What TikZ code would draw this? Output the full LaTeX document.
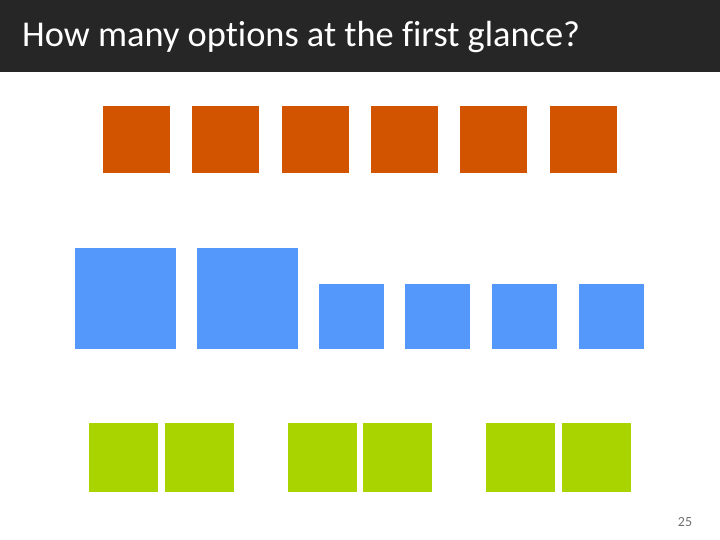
\documentclass[tikz,border=0pt]{standalone}
\usepackage{fontspec}
\setmainfont{Carlito}[Ligatures=NoCommon]
\definecolor{barc}{HTML}{262626}
\definecolor{orangec}{HTML}{D35400}
\definecolor{bluec}{HTML}{5598FC}
\definecolor{greenc}{HTML}{AAD400}
\definecolor{numc}{HTML}{707070}
\begin{document}
\begin{tikzpicture}[x=1bp,y=-1bp,
  box/.style={inner sep=0pt,outer sep=0pt}]
\useasboundingbox (0,0) rectangle (720,540);
\fill[white] (0,0) rectangle (720,540);
\fill[barc] (0,0) rectangle (720,72);
\node[anchor=base west,text=white,font=\fontsize{36.5}{40}\selectfont,inner sep=0pt] (title) at (22,47) {How many options at the first glance?};
% orange row
\foreach \x [count=\i] in {103,192,282,371,460,550}
  \fill[orangec] (\x,106) rectangle ++(67,67);
% blue row
\fill[bluec] (75,248) rectangle (176,349);
\fill[bluec] (197,248) rectangle (298,349);
\foreach \x in {319,405,492,579}
  \fill[bluec] (\x,284) rectangle ++(65,65);
% green row
\foreach \x in {89,165,288,363,486,562}
  \fill[greenc] (\x,423) rectangle ++(69,69);
\node[anchor=base,text=numc,font=\fontsize{14}{16}\selectfont,inner sep=0pt] (num) at (685,526) {25};
\end{tikzpicture}
\end{document}
